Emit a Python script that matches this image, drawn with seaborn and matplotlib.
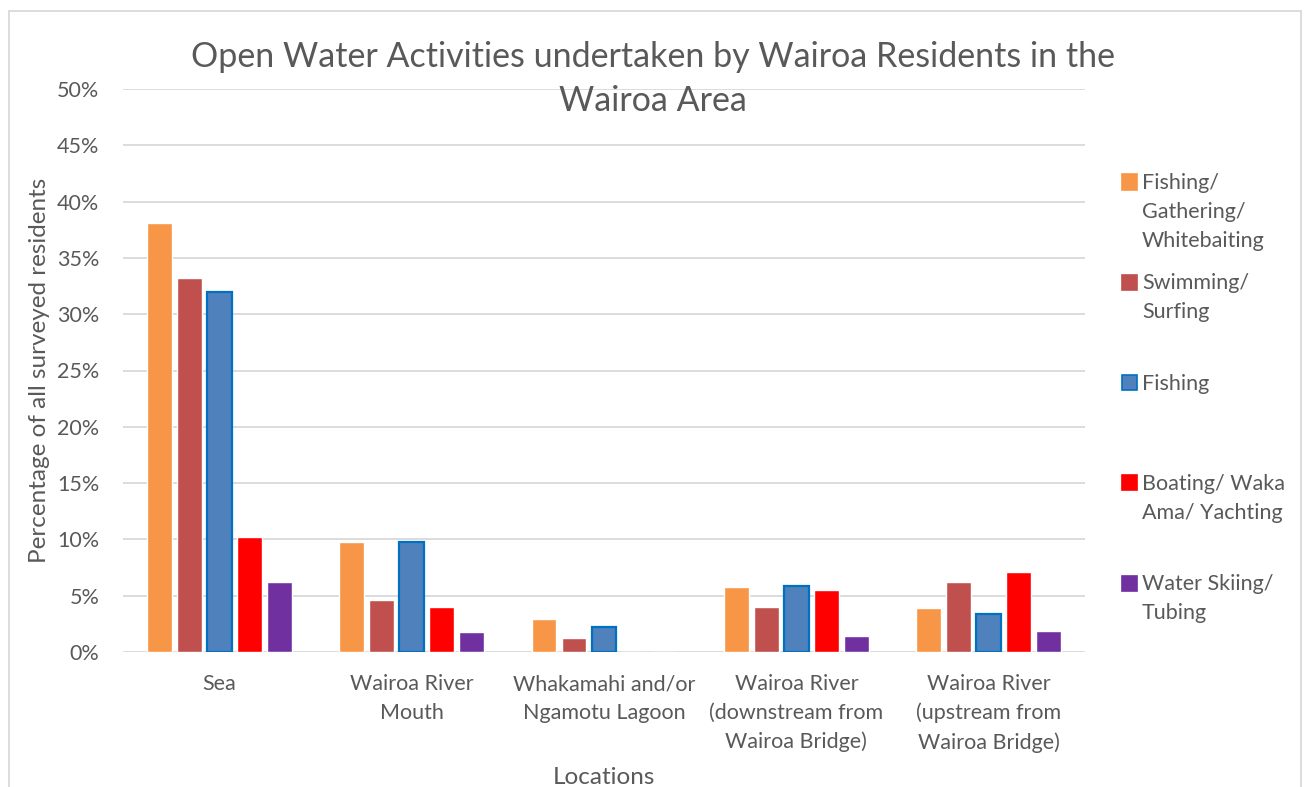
import matplotlib
matplotlib.use('Agg')
import matplotlib.pyplot as plt
import matplotlib.patches as mpatches
import pandas as pd
import seaborn as sns

# chart data (percent of surveyed residents)
locations = ['Sea', 'Wairoa River\nMouth', 'Whakamahi and/or\nNgamotu Lagoon',
             'Wairoa River\n(downstream from\nWairoa Bridge)',
             'Wairoa River\n(upstream from\nWairoa Bridge)']
activities = ['Fishing/\nGathering/\nWhitebaiting', 'Swimming/\nSurfing', 'Fishing',
              'Boating/ Waka\nAma/ Yachting', 'Water Skiing/\nTubing']
fishing_gathering = [38.1, 9.75, 2.9, 5.75, 3.95]
swimming_surfing = [33.2, 4.6, 1.25, 4.0, 6.2]
fishing = [32.0, 9.75, 2.2, 5.9, 3.35]
boating = [10.2, 4.0, 0.0, 5.5, 7.1]
water_skiing = [6.25, 1.75, 0.0, 1.4, 1.9]
colors = ['#F79646', '#C0504D', '#4F81BD', '#FF0000', '#7030A0']
yticks = [0, 5, 10, 15, 20, 25, 30, 35, 40, 45, 50]

series = [fishing_gathering, swimming_surfing, fishing, boating, water_skiing]
rows = []
for act, vals in zip(activities, series):
    for loc, v in zip(locations, vals):
        rows.append({'Location': loc, 'Activity': act, 'Value': v / 100})
df = pd.DataFrame(rows)

sns.set_style("white")
plt.rcParams['font.family'] = ['Lato', 'DejaVu Sans']
text_col = '#595959'

fig = plt.figure(figsize=(13.06, 7.87), dpi=100)
ax = fig.add_axes([123 / 1306, 1 - 652 / 787, 962 / 1306, 563 / 787])

sns.barplot(data=df, x='Location', y='Value', hue='Activity',
            order=locations, hue_order=activities,
            palette=dict(zip(activities, colors)),
            width=0.78, gap=0.17, saturation=1, legend=False, ax=ax)

# the Fishing series has a darker blue outline
for c in ax.containers[2]:
    c.set_edgecolor('#0070C0')
    c.set_linewidth(1.6)

ax.set_ylim(0, 0.5)
ax.set_yticks([t / 100 for t in yticks])
ax.set_yticklabels([f'{t}%' for t in yticks])
ax.yaxis.grid(True, color='#D9D9D9', linewidth=1.3)
ax.set_axisbelow(True)
for s in ax.spines.values():
    s.set_visible(False)
ax.tick_params(axis='both', length=0, labelsize=15.5, colors=text_col)
ax.tick_params(axis='y', pad=17)
ax.tick_params(axis='x', pad=16)
for lbl in ax.get_xticklabels():
    lbl.set_linespacing(1.52)

ax.set_ylabel('Percentage of all surveyed residents', fontsize=17.5, color=text_col)
ax.yaxis.set_label_coords(-0.076, 0.5)
ax.set_xlabel('Locations', fontsize=17.5, color=text_col)
ax.xaxis.set_label_coords(0.5, -0.205)

fig.text(0.5, 1 - 79 / 787, 'Open Water Activities undertaken by Wairoa Residents in the\nWairoa Area',
         ha='center', va='center', fontsize=24.5, color=text_col, linespacing=1.45)

# legend, one entry every ~100 px on the right
for i, (act, col) in enumerate(zip(activities, colors)):
    yc = (182 + 100.3 * i)
    edge = '#0070C0' if i == 2 else col
    fig.patches.append(mpatches.Rectangle((1122 / 1306, 1 - (yc + 7.5) / 787), 15 / 1306, 15 / 787,
                                          transform=fig.transFigure, facecolor=col,
                                          edgecolor=edge, linewidth=1.2))
    fig.text(1142 / 1306, 1 - (yc - 9) / 787, act, ha='left', va='top', fontsize=15.5,
             color=text_col, linespacing=1.55)

# chart frame
fig.patches.append(mpatches.Rectangle((9 / 1306, -0.05), 1292 / 1306, 1.05 - 11 / 787,
                                      transform=fig.transFigure, fill=False,
                                      edgecolor='#D9D9D9', linewidth=1.3))

fig.savefig('out.png', dpi=100)
plt.close()
